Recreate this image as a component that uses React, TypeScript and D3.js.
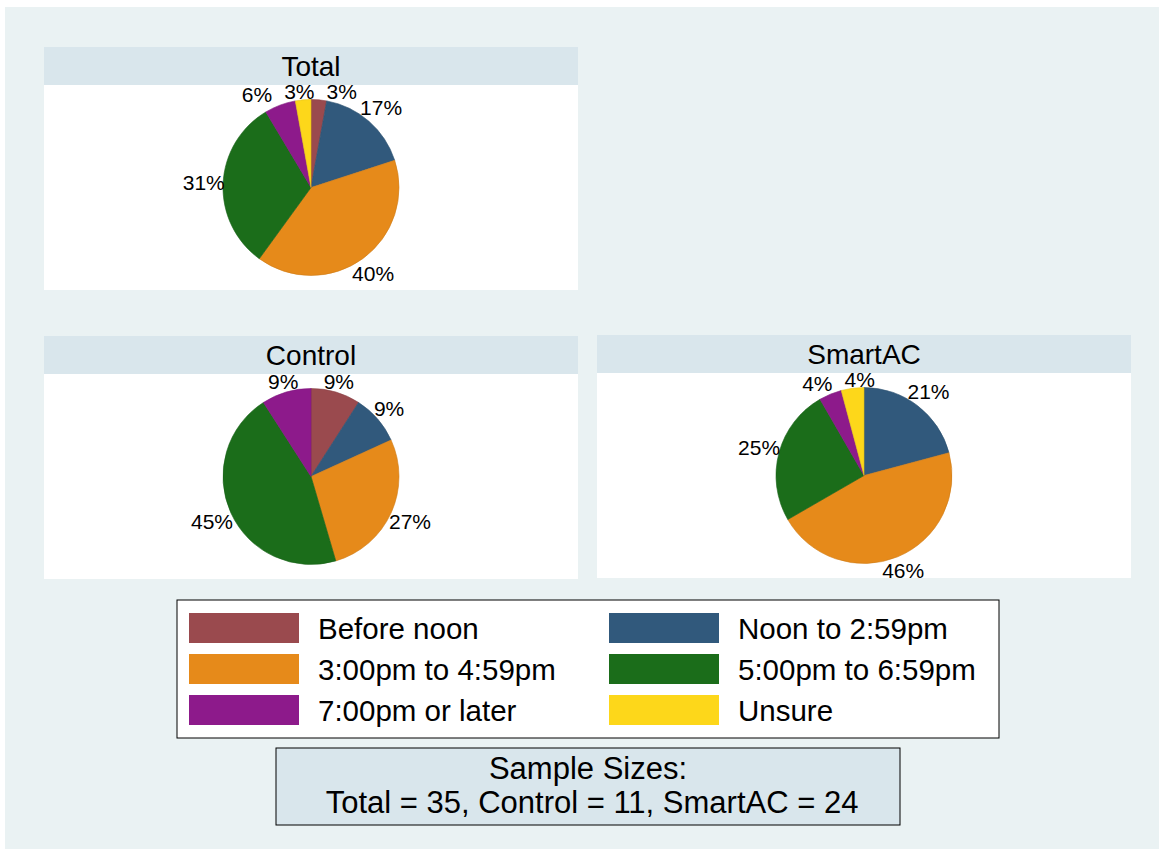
import React from "react";
import * as d3 from "d3";

const categories = [
  "Before noon",
  "Noon to 2:59pm",
  "3:00pm to 4:59pm",
  "5:00pm to 6:59pm",
  "7:00pm or later",
  "Unsure",
];
const colors = ["#9A4A4E", "#31597C", "#E68A1A", "#1B6D1A", "#8D1A8B", "#FDD71A"];
const panelTitles = ["Total", "Control", "SmartAC"];
const totalCounts = [1, 6, 14, 11, 2, 1];
const controlCounts = [1, 1, 3, 5, 1, 0];
const smartACCounts = [0, 5, 11, 6, 1, 1];
const noteLines = ["Sample Sizes:", " Total = 35, Control = 11, SmartAC = 24"];

const FONT = "'Liberation Sans', Arial, Helvetica, sans-serif";
const W = 1164;
const H = 852;

const charW: Record<string, number> = {
  "0": 0.556, "1": 0.556, "2": 0.556, "3": 0.556, "4": 0.556, "5": 0.556,
  "6": 0.556, "7": 0.556, "8": 0.556, "9": 0.556, "%": 0.889,
};
function textWidth(s: string, fs: number) {
  let w = 0;
  for (const c of s) w += charW[c] ?? 0.556;
  return w * fs;
}

type PanelProps = { title: string; counts: number[]; x: number; y: number; w: number; titleH: number; plotH: number };

type Lbl = { i: number; text: string; x: number; y: number; w: number; h: number };

function PiePanel({ title, counts, x, y, w, titleH, plotH }: PanelProps) {
  const r = 88;
  const cx = x + w / 2;
  const cy = y + titleH + plotH / 2;
  const total = d3.sum(counts);
  const pie = d3.pie<number>().sort(null).value((d) => d).startAngle(0).endAngle(2 * Math.PI);
  const arcs = pie(counts);
  const arc = d3.arc<d3.PieArcDatum<number>>().innerRadius(0).outerRadius(r);
  const labelFs = 21;
  const gap = -2;
  const th = 18;

  const labels: Lbl[] = [];
  arcs.forEach((a, i) => {
    if (a.value <= 0) return;
    const text = `${Math.round((a.value / total) * 100)}%`;
    const mid = (a.startAngle + a.endAngle) / 2;
    const sx = Math.sin(mid);
    const sy = -Math.cos(mid);
    const tw = textWidth(text, labelFs);
    const ext = (tw / 2) * Math.abs(sx) + (th / 2) * Math.abs(sy);
    const d = r + gap + ext;
    labels.push({ i, text, x: d * sx, y: d * sy, w: tw, h: th });
  });
  // resolve horizontal overlaps between neighbouring labels
  const pad = 12;
  for (let iter = 0; iter < 30; iter++) {
    let moved = false;
    const sorted = [...labels].sort((a, b) => a.x - b.x);
    for (let k = 0; k < sorted.length - 1; k++) {
      const a = sorted[k];
      const b = sorted[k + 1];
      if (Math.abs(a.y - b.y) < (a.h + b.h) / 2) {
        const need = (a.w + b.w) / 2 + pad - (b.x - a.x);
        if (need > 0.1) {
          a.x -= need / 2;
          b.x += need / 2;
          moved = true;
        }
      }
    }
    if (!moved) break;
  }

  return (
    <g>
      <rect x={x} y={y} width={w} height={titleH} fill="#D9E6EC" />
      <text x={cx} y={y + titleH / 2} dy="0.36em" textAnchor="middle" fontSize={28} fontFamily={FONT} fill="#000">
        {title}
      </text>
      <rect x={x} y={y + titleH} width={w} height={plotH} fill="#FFFFFF" />
      <g transform={`translate(${cx},${cy})`}>
        {arcs.map((a, i) =>
          a.value > 0 ? (
            <path key={i} d={arc(a) || ""} fill={colors[i]} stroke={d3.color(colors[i])!.darker(0.3).toString()} strokeWidth={0.6} />
          ) : null
        )}
        {labels.map((l) => (
          <text key={"l" + l.i} x={l.x} y={l.y} dy="0.36em" textAnchor="middle" fontSize={labelFs} fontFamily={FONT} fill="#000">
            {l.text}
          </text>
        ))}
      </g>
    </g>
  );
}

export default function App() {
  const panels = [
    { title: panelTitles[0], counts: totalCounts, x: 44, y: 47 },
    { title: panelTitles[1], counts: controlCounts, x: 44, y: 336 },
    { title: panelTitles[2], counts: smartACCounts, x: 597, y: 335 },
  ];
  const legendX = 177, legendY = 600, legendW = 822, legendH = 138;
  const colX = [189, 609];
  const rowY = [613, 654, 695];
  const swW = 110, swH = 30;
  return (
    <svg width={W} height={H} style={{ position: "absolute", left: 0, top: 0, display: "block" }}>
      <rect x={0} y={0} width={W} height={H} fill="#FFFFFF" />
      <rect x={5} y={7} width={1154} height={842} fill="#EAF2F3" />
      {panels.map((p, i) => (
        <PiePanel key={i} title={p.title} counts={p.counts} x={p.x} y={p.y} w={534} titleH={38} plotH={205} />
      ))}
      <rect x={legendX} y={legendY} width={legendW} height={legendH} fill="#FFFFFF" stroke="#000" strokeWidth={1} />
      {categories.map((c, i) => {
        const col = i % 2;
        const row = Math.floor(i / 2);
        return (
          <g key={c}>
            <rect x={colX[col]} y={rowY[row]} width={swW} height={swH} fill={colors[i]} />
            <text x={colX[col] + 129} y={rowY[row] + swH / 2} dy="0.36em" fontSize={29.5} fontFamily={FONT} fill="#000">
              {c}
            </text>
          </g>
        );
      })}
      <rect x={276} y={748} width={624} height={77} fill="#D9E6EC" stroke="#000" strokeWidth={1} />
      {noteLines.map((t, i) => (
        <text key={i} x={588} y={768 + i * 33.5} dy="0.36em" textAnchor="middle" fontSize={31} fontFamily={FONT} fill="#000" style={{ whiteSpace: "pre" }}>
          {t}
        </text>
      ))}
    </svg>
  );
}
